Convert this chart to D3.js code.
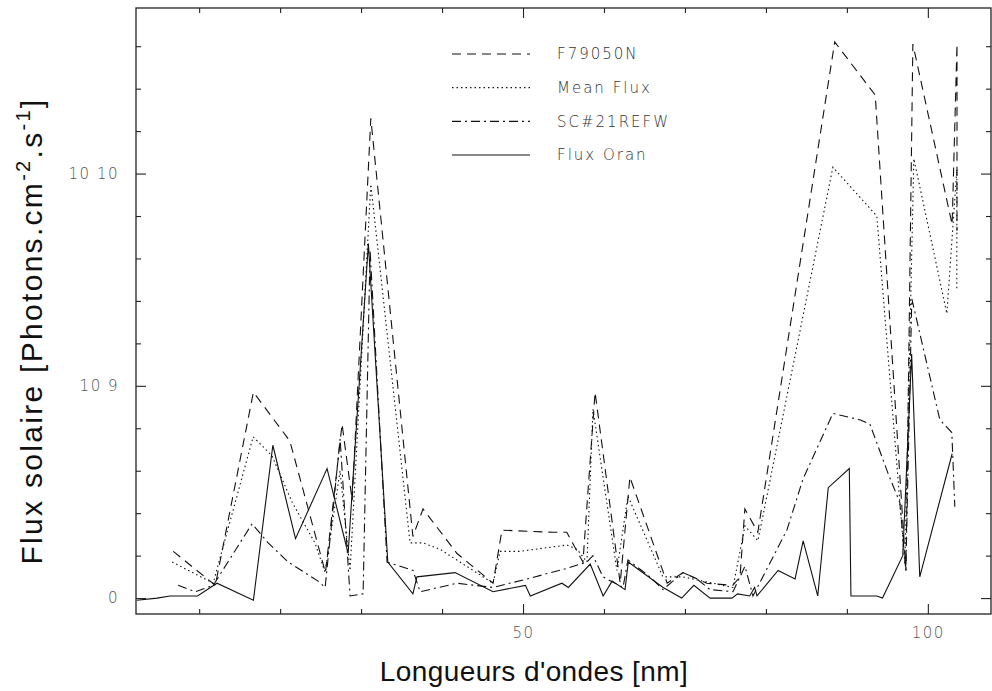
<!DOCTYPE html>
<html><head><meta charset="utf-8">
<script src="https://cdn.jsdelivr.net/npm/d3@7"></script>
<style>body{margin:0;background:#fff;} svg{display:block;}</style>
</head><body>
<svg id="chart" width="992" height="691"></svg>
<script>
// ---- data (wavelength in nm, flux in plotted axis units: 0, "10 9" = 1, "10 10" = 2) ----
const seriesNames = ["F79050N", "Mean Flux", "SC#21REFW", "Flux Oran"];

const f79050nWave = [6.8,12.0,16.7,21.2,25.6,27.65,28.9,31.2,36.4,37.65,41.85,46.3,47.4,53.7,55.4,57.4,58.9,62.0,63.2,67.8,69.75,72.7,75.9,76.8,77.4,79.0,88.5,93.5,97.3,98.15,103.0,103.6,103.6];
const f79050nFlux = [0.22,0.06,0.97,0.74,0.12,0.82,0.46,2.26,0.29,0.42,0.21,0.07,0.32,0.31,0.31,0.17,0.97,0.07,0.57,0.07,0.12,0.07,0.06,0.10,0.42,0.31,2.62,2.37,0.13,2.61,1.76,2.61,1.73];

const meanWave = [6.67,11.73,16.67,19.0,21.5,24.3,25.56,27.4,28.64,31.2,36.05,37.65,39.75,46.3,47.16,49.6,55.43,56.67,57.9,58.64,61.6,62.96,67.28,69.75,75.93,77.41,79.01,88.27,93.7,97.16,98.27,102.35,103.58,103.58];
const meanFlux = [0.17,0.07,0.76,0.67,0.45,0.26,0.12,0.60,0.13,1.95,0.26,0.26,0.23,0.07,0.22,0.22,0.25,0.23,0.17,0.89,0.13,0.48,0.10,0.10,0.05,0.34,0.27,2.03,1.80,0.16,2.07,1.34,2.02,1.45];

const sc21Wave = [7.41,9.51,11.73,16.54,18.52,20.99,24.69,25.56,27.41,28.64,30.25,31.11,33.21,36.42,37.28,41.85,46.3,50.49,55.43,57.9,58.64,59.88,62.35,62.96,65.68,67.28,69.75,71.48,73.09,75.93,77.41,78.4,82.59,84.57,88.27,91.6,92.84,95.06,96.54,97.28,98.02,101.48,102.96,103.33];
const sc21Flux = [0.06,0.03,0.06,0.35,0.26,0.17,0.08,0.05,0.75,0.01,0.02,1.64,0.17,0.13,0.03,0.07,0.05,0.09,0.14,0.17,0.20,0.10,0.05,0.18,0.10,0.04,0.12,0.09,0.04,0.03,0.15,0.01,0.32,0.56,0.87,0.84,0.82,0.59,0.45,0.13,1.41,0.84,0.78,0.43];

const oranWave = [2.3,4.8,6.4,9.8,12.2,16.7,19.1,21.9,25.8,28.4,30.9,33.3,36.4,36.9,41.6,46.3,50.3,50.9,54.8,55.6,58.3,59.9,61.0,62.6,63.0,67.3,69.6,71.1,73.1,75.8,76.5,78.0,78.6,78.9,81.5,83.6,84.6,86.4,87.7,90.3,90.5,93.7,94.4,96.9,98.0,99.0,103.0];
const oranFlux = [-0.01,0.0,0.01,0.01,0.07,-0.01,0.72,0.28,0.61,0.21,1.67,0.17,0.02,0.10,0.12,0.03,0.06,0.01,0.07,0.05,0.16,0.01,0.08,0.04,0.17,0.05,0.0,0.06,0.0,0.0,0.02,0.01,0.05,0.01,0.13,0.09,0.27,0.01,0.52,0.61,0.01,0.01,0.0,0.20,1.15,0.10,0.68];

const xMajorTicks = [50, 100];
const xMinorTicks = [10, 20, 30, 40, 60, 70, 80, 90];
const yMajorTicks = [0, 1, 2];
const yMajorLabels = ["0", "10 9", "10 10"];
const yMinorTicks = [0.2, 0.4, 0.6, 0.8, 1.2, 1.4, 1.6, 1.8, 2.2, 2.4, 2.6];

const xTitle = "Longueurs d'ondes [nm]";

// ---- build ----
const svg = d3.select("#chart");
const x = d3.scaleLinear().domain([2.2, 107.8]).range([136, 991]);
const y = d3.scaleLinear().domain([-0.075, 2.78]).range([614, 8]);

const axisColor = "#222";
const labelFont = "'DejaVu Sans', sans-serif";

function styleAxis(g) {
  g.select(".domain").remove();
  g.selectAll(".tick line").attr("stroke", axisColor).attr("stroke-width", 1.1);
  g.selectAll(".tick text").attr("fill", "#555").attr("font-family", labelFont)
    .attr("font-size", 15).attr("font-weight", 200).attr("letter-spacing", "1.5px");
}

// bottom axis
svg.append("g").attr("transform", "translate(0,614)")
  .call(d3.axisBottom(x).tickValues(xMinorTicks).tickSizeInner(-5).tickSizeOuter(0).tickFormat(""))
  .call(styleAxis);
svg.append("g").attr("transform", "translate(0,614)")
  .call(d3.axisBottom(x).tickValues(xMajorTicks).tickSizeInner(-10).tickSizeOuter(0).tickPadding(13).tickFormat(d3.format("d")))
  .call(styleAxis);
// top axis
svg.append("g").attr("transform", "translate(0,8)")
  .call(d3.axisTop(x).tickValues(xMinorTicks).tickSizeInner(-5).tickSizeOuter(0).tickFormat(""))
  .call(styleAxis);
svg.append("g").attr("transform", "translate(0,8)")
  .call(d3.axisTop(x).tickValues(xMajorTicks).tickSizeInner(-10).tickSizeOuter(0).tickFormat(""))
  .call(styleAxis);
// left axis
svg.append("g").attr("transform", "translate(136,0)")
  .call(d3.axisLeft(y).tickValues(yMinorTicks).tickSizeInner(-5).tickSizeOuter(0).tickFormat(""))
  .call(styleAxis);
svg.append("g").attr("transform", "translate(136,0)")
  .call(d3.axisLeft(y).tickValues(yMajorTicks).tickSizeInner(-10).tickSizeOuter(0).tickPadding(17)
    .tickFormat((d, i) => yMajorLabels[i]))
  .call(styleAxis);
// right axis
svg.append("g").attr("transform", "translate(991,0)")
  .call(d3.axisRight(y).tickValues(yMinorTicks).tickSizeInner(-5).tickSizeOuter(0).tickFormat(""))
  .call(styleAxis);
svg.append("g").attr("transform", "translate(991,0)")
  .call(d3.axisRight(y).tickValues(yMajorTicks).tickSizeInner(-10).tickSizeOuter(0).tickFormat(""))
  .call(styleAxis);

// frame
svg.append("rect").attr("x", x.range()[0]).attr("y", y.range()[1])
  .attr("width", x.range()[1] - x.range()[0]).attr("height", y.range()[0] - y.range()[1])
  .attr("fill", "none").attr("stroke", axisColor).attr("stroke-width", 1.3);

// series
const series = [
  { name: seriesNames[0], wave: f79050nWave, flux: f79050nFlux, dash: "9,6" },
  { name: seriesNames[1], wave: meanWave, flux: meanFlux, dash: "1.5,3" },
  { name: seriesNames[2], wave: sc21Wave, flux: sc21Flux, dash: "9,4,2,4" },
  { name: seriesNames[3], wave: oranWave, flux: oranFlux, dash: null }
];
const line = d3.line().x(d => x(d[0])).y(d => y(d[1]));
svg.append("g").selectAll("path").data(series).join("path")
  .attr("d", s => line(d3.zip(s.wave, s.flux)))
  .attr("fill", "none").attr("stroke", "#111").attr("stroke-width", 1.1)
  .attr("stroke-dasharray", s => s.dash);

// legend
const legendY = d3.scalePoint().domain(seriesNames).range([54, 155]);
const lg = svg.append("g").selectAll("g").data(series).join("g")
  .attr("transform", s => `translate(0,${legendY(s.name)})`);
lg.append("line").attr("x1", 452).attr("x2", 530).attr("y1", 0).attr("y2", 0)
  .attr("stroke", "#111").attr("stroke-width", 1.1).attr("stroke-dasharray", s => s.dash);
lg.append("text").attr("x", 557).attr("y", 0).attr("dy", "0.36em")
  .attr("font-family", labelFont).attr("font-size", 15).attr("font-weight", 200)
  .attr("letter-spacing", "2px").attr("fill", "#333").text(s => s.name);

// axis titles
svg.append("text").attr("x", 534).attr("y", 681).attr("text-anchor", "middle")
  .attr("font-family", "'Liberation Sans', Arial, sans-serif").attr("font-size", 28)
  .attr("letter-spacing", "0.4px").attr("fill", "#111").text(xTitle);

const yt = svg.append("text").attr("transform", "translate(42,331) rotate(-90)")
  .attr("text-anchor", "middle").attr("font-family", "'Liberation Sans', Arial, sans-serif")
  .attr("font-size", 30).attr("letter-spacing", "2.3px").attr("fill", "#111");
yt.append("tspan").text("Flux solaire [Photons.cm");
yt.append("tspan").attr("dy", -12).attr("font-size", 20).text("-2");
yt.append("tspan").attr("dy", 12).text(".s");
yt.append("tspan").attr("dy", -12).attr("font-size", 20).text("-1");
yt.append("tspan").attr("dy", 12).text("]");
</script>
</body></html>
